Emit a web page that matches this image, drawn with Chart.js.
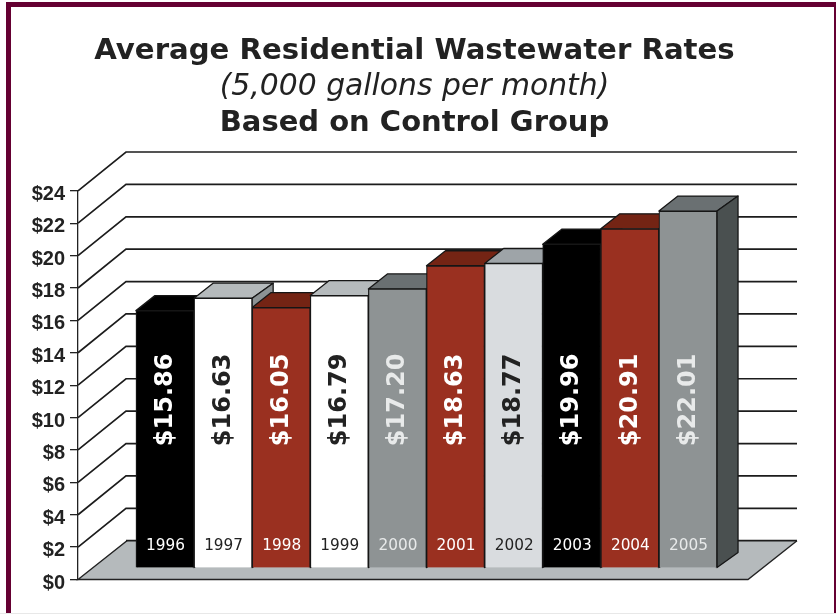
<!DOCTYPE html>
<html>
<head>
<meta charset="utf-8">
<style>
html,body{margin:0;padding:0;background:#fff;width:836px;height:614px;overflow:hidden}
#frame{position:absolute;left:6px;top:2px;width:823px;height:611px;border:solid #650032;border-width:5px 5px 0 5px}
#foot{position:absolute;left:0;top:613px;width:836px;height:1px;background:#e8e8e8}
canvas{position:absolute;left:0;top:0}
</style>
<script src="https://cdn.jsdelivr.net/npm/chart.js@4/dist/chart.umd.min.js"></script>
</head>
<body>
<div id="frame"></div><div id="foot"></div>
<canvas id="c" width="836" height="614"></canvas>
<script>
const years = [1996,1997,1998,1999,2000,2001,2002,2003,2004,2005];
const rates = [15.86,16.63,16.05,16.79,17.20,18.63,18.77,19.96,20.91,22.01];
const frontColors = ['#000000','#ffffff','#9a3020','#ffffff','#8e9394','#9a3020','#d9dcdf','#000000','#9a3020','#8e9394'];
const topColors   = ['#000000','#b5babc','#742414','#b5babc','#6a7072','#742414','#9ea4a8','#000000','#742414','#6a7072'];
const sideColors  = ['#000000','#8c9294','#5a1c10','#8c9294','#4a5050','#5a1c10','#7c8286','#000000','#5a1c10','#4a5050'];
const labelColors = ['#ffffff','#222222','#ffffff','#222222','#e8eaea','#ffffff','#222222','#ffffff','#ffffff','#e8eaea'];
const titleLines = ['Average Residential Wastewater Rates','(5,000 gallons per month)','Based on Control Group'];
const yTicks = {min:0,max:24,step:2};

const WALL_DX = 48, WALL_DY = 38.8, BAR_DX = 21, BAR_DY = 15;

const scene3d = {
  id:'scene3d',
  beforeDatasetsDraw(chart){
    const {ctx, scales:{y}} = chart;
    const a = chart.chartArea;
    ctx.save();
    const y0 = y.getPixelForValue(0);
    ctx.beginPath();
    ctx.moveTo(a.left,y0);ctx.lineTo(a.left+WALL_DX,y0-WALL_DY);
    ctx.lineTo(a.right+WALL_DX+1,y0-WALL_DY);ctx.lineTo(a.right,y0);ctx.closePath();
    ctx.fillStyle='#b5babc';ctx.fill();
    ctx.strokeStyle='#222';ctx.lineWidth=1.4;
    ctx.beginPath();ctx.moveTo(a.left+WALL_DX+1,y0-WALL_DY);ctx.lineTo(a.left,y0);ctx.lineTo(a.right,y0);ctx.lineTo(a.right+WALL_DX+1,y0-WALL_DY);ctx.stroke();
    for(let v=yTicks.min;v<=yTicks.max;v+=yTicks.step){
      const p=y.getPixelForValue(v);
      ctx.strokeStyle='#1c1c1c';ctx.lineWidth=1.7;
      ctx.beginPath();
      if(v>0){ctx.moveTo(a.left,p);ctx.lineTo(a.left+WALL_DX,p-WALL_DY);}
      else{ctx.moveTo(a.left+WALL_DX,p-WALL_DY);}
      ctx.lineTo(a.right+WALL_DX+1,p-WALL_DY);
      ctx.stroke();
    }
    const meta=chart.getDatasetMeta(0);
    ctx.lineWidth=1.3;ctx.strokeStyle='#161616';ctx.lineJoin='round';
    meta.data.forEach((b,i)=>{
      const L=b.x-b.width/2,R=b.x+b.width/2,T=b.y,B=b.base;
      ctx.beginPath();ctx.moveTo(L,T);ctx.lineTo(L+BAR_DX-2,T-BAR_DY);ctx.lineTo(R+BAR_DX,T-BAR_DY);ctx.lineTo(R,T);ctx.closePath();
      ctx.fillStyle=topColors[i];ctx.fill();ctx.stroke();
      ctx.beginPath();ctx.moveTo(R,T);ctx.lineTo(R+BAR_DX,T-BAR_DY);ctx.lineTo(R+BAR_DX,B-BAR_DY);ctx.lineTo(R,B);ctx.closePath();
      ctx.fillStyle=sideColors[i];ctx.fill();ctx.stroke();
    });
    ctx.restore();
  },
  afterDatasetsDraw(chart){
    const {ctx, scales:{yBars}} = chart;
    const meta=chart.getDatasetMeta(0);
    ctx.save();
    meta.data.forEach((b,i)=>{
      ctx.fillStyle=labelColors[i];
      ctx.textAlign='center';ctx.textBaseline='middle';
      ctx.font='15.3px "DejaVu Sans"';
      ctx.fillText(String(years[i]),b.x+0.5,yBars.getPixelForValue(1.3));
      ctx.save();
      ctx.translate(b.x+0.5,yBars.getPixelForValue(10.35));
      ctx.rotate(-Math.PI/2);
      ctx.font='bold 24px "DejaVu Sans"';
      ctx.fillText('$'+rates[i].toFixed(2),0,0);
      ctx.restore();
    });
    ctx.fillStyle='#222';ctx.textAlign='center';ctx.textBaseline='middle';
    ctx.font='bold 29px "DejaVu Sans"';
    ctx.fillText(titleLines[2],414.5,123.5);
    ctx.restore();
  }
};

new Chart(document.getElementById('c'),{
  type:'bar',
  data:{
    datasets:[{
      data:years.map((yr,i)=>({x:yr,y:rates[i]})),
      backgroundColor:frontColors,
      borderColor:'#161616',
      borderWidth:1.2,
      barPercentage:1,
      categoryPercentage:1,
      xAxisID:'x',
      yAxisID:'yBars'
    }]
  },
  plugins:[scene3d],
  options:{
    responsive:false,
    animation:false,
    layout:{padding:{left:0,right:7,top:0,bottom:34.5}},
    plugins:{
      legend:{display:false},
      tooltip:{enabled:false},
      title:{display:true,text:titleLines[0],color:'#222',font:{family:'"DejaVu Sans"',size:29.2,weight:'bold',lineHeight:1.2},padding:{top:34,bottom:0},align:'center'},
      subtitle:{display:true,text:titleLines[1],color:'#222',font:{family:'"DejaVu Sans"',size:29.8,style:'italic',weight:'normal',lineHeight:1.2},padding:{top:0,bottom:86}}
    },
    scales:{
      x:{type:'linear',display:false,offset:false,min:1994.503,max:2006.033,grid:{display:false}},
      y:{
        type:'linear',position:'left',min:yTicks.min,max:yTicks.max,
        afterFit(s){s.width=78;s.paddingTop=0;s.paddingBottom=0;},
        border:{display:true,color:'#222',width:1.3},
        grid:{drawOnChartArea:false,drawTicks:true,tickLength:8,color:'#222',lineWidth:1.3},
        ticks:{stepSize:yTicks.step,autoSkip:false,padding:5,labelOffset:3.5,color:'#222',font:{family:'"Liberation Sans"',size:20,weight:'bold'},callback:v=>'$'+v}
      },
      yBars:{
        type:'linear',position:'right',min:-0.741,max:23.259,
        afterFit(s){s.width=81;s.paddingTop=0;s.paddingBottom=0;},
        border:{display:false},grid:{display:false},ticks:{display:false}
      }
    }
  }
});
</script>
</body>
</html>
